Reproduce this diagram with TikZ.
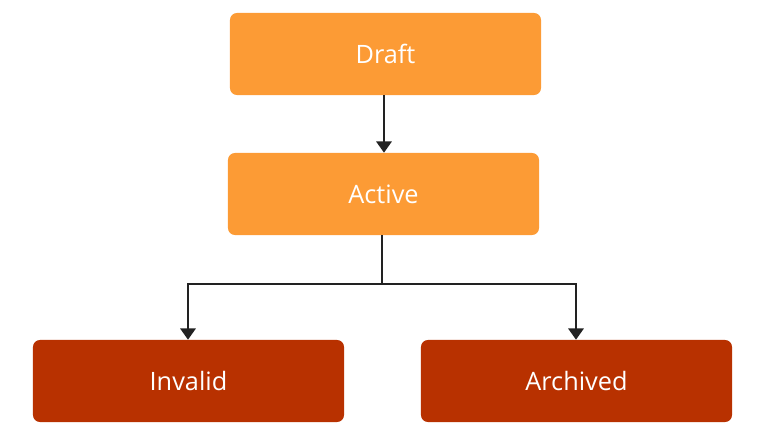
\documentclass[tikz,border=0pt]{standalone}
\usepackage{fontspec}
\setmainfont{Open Sans}
\usetikzlibrary{positioning, arrows.meta}
\definecolor{stateorange}{HTML}{FC9B35}
\definecolor{statered}{HTML}{B83100}
\definecolor{linegray}{HTML}{222222}
\begin{document}
\begin{tikzpicture}[x=0.025cm, y=-0.025cm,
    font=\fontsize{18}{20}\selectfont,
    box/.style={rectangle, rounded corners=5pt, draw=none, text=white,
                minimum width=7.775cm, minimum height=2.05cm},
    arr/.style={draw=linegray, line width=1.2pt, -{Triangle[length=8pt,width=11pt]}}]
    \useasboundingbox (0,0) rectangle (759,444);

    \node[box, fill=stateorange] (draft)    at (385.5,54)  {Draft};
    \node[box, fill=stateorange] (active)   at (383.5,194) {Active};
    \node[box, fill=statered]    (invalid)  at (188.5,381) {Invalid};
    \node[box, fill=statered]    (archived) at (576.5,381) {Archived};

    \coordinate (split) at (382,284);

    \draw[arr] (draft.south -| 384,0) -- (active.north -| 384,0);
    \draw[draw=linegray, line width=1.2pt] (active.south -| split) -- (split);
    \draw[arr] (split) -| (invalid.north -| 188,0);
    \draw[arr] (split) -| (archived.north -| 576,0);
\end{tikzpicture}
\end{document}
